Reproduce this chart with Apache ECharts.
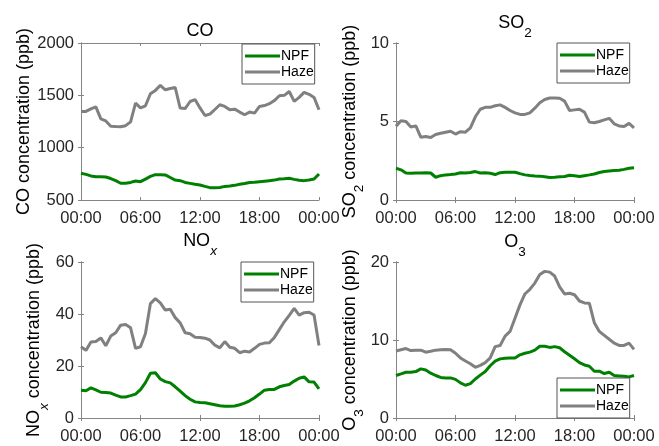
<!DOCTYPE html>
<html><head><meta charset="utf-8">
<script src="https://cdn.jsdelivr.net/npm/echarts@6/dist/echarts.min.js"></script>
<style>html,body{margin:0;padding:0;background:#fff}#c{width:659px;height:446px}</style>
</head><body><div id="c"></div>
<script>
const hours = [0,0.5,1,1.5,2,2.5,3,3.5,4,4.5,5,5.5,
  6,6.5,7,7.5,8,8.5,9,9.5,10,10.5,11,11.5,
  12,12.5,13,13.5,14,14.5,15,15.5,16,16.5,17,17.5,
  18,18.5,19,19.5,20,20.5,21,21.5,22,22.5,23,23.5,24];
const tickLabels = ['00:00','06:00','12:00','18:00','00:00'];
const seriesNames = ['NPF','Haze'];

const coNPF = [755,745,730,722,723,720,705,685,660,660,668,682,
  675,700,725,742,742,740,715,690,685,668,659,650,
  643,630,618,618,620,630,634,640,650,658,668,670,
  675,680,685,690,700,703,707,697,688,685,691,700,749];
const coHaze = [1346,1346,1370,1390,1275,1255,1205,1202,1200,1210,1247,1425,
  1380,1400,1515,1547,1595,1553,1565,1575,1378,1374,1441,1460,
  1380,1307,1320,1365,1410,1394,1362,1368,1340,1314,1340,1330,
  1394,1402,1420,1450,1496,1500,1537,1442,1480,1528,1510,1480,1362];
const so2NPF = [2.02,1.92,1.72,1.70,1.72,1.72,1.74,1.72,1.45,1.55,1.6,1.62,
  1.66,1.74,1.72,1.75,1.81,1.72,1.74,1.7,1.62,1.74,1.76,1.77,
  1.77,1.68,1.6,1.56,1.53,1.52,1.48,1.43,1.45,1.48,1.5,1.58,
  1.55,1.5,1.55,1.6,1.66,1.75,1.82,1.85,1.88,1.9,1.95,2.02,2.05];
const so2Haze = [4.7,5.05,5.0,4.65,4.72,4.0,4.04,3.98,4.17,4.25,4.32,4.38,
  4.2,4.35,4.32,4.6,5.3,5.78,5.9,5.9,6.0,6.06,5.9,5.7,
  5.55,5.45,5.45,5.55,5.85,6.2,6.4,6.5,6.5,6.48,6.3,5.7,
  5.74,5.78,5.6,4.96,4.92,5.0,5.1,5.2,4.85,4.72,4.68,4.88,4.6];
const noxNPF = [10.7,10.5,11.6,10.8,9.9,9.8,9.6,8.8,8.1,8.1,8.6,9.2,
  10.9,13.6,17.2,17.4,15.0,14.0,13.5,12.0,10.3,8.6,7.2,6.2,
  6.0,5.9,5.5,5.1,4.7,4.5,4.5,4.6,5.1,5.7,6.6,7.8,
  9.2,10.7,11.0,11.0,12.0,12.5,12.9,14.2,15.3,15.8,13.9,13.8,11.2];
const noxHaze = [27.4,26.0,29.2,29.4,30.8,27.8,31.5,32.8,35.7,36.0,34.7,26.8,
  27.4,32.5,44.0,45.9,44.3,41.5,41.8,38.6,36.6,32.8,32.4,31.1,
  31.0,30.7,30.0,28.0,27.0,29.4,27.2,26.8,25.1,25.7,25.4,26.8,
  28.3,28.8,28.9,31.0,34.0,37.0,39.5,42.2,39.6,40.5,40.7,39.6,27.9];
const o3NPF = [5.45,5.65,5.87,5.87,5.95,6.3,6.15,5.75,5.45,5.2,5.14,5.14,
  4.95,4.5,4.2,4.4,5.0,5.5,5.95,6.7,7.28,7.58,7.65,7.7,
  7.7,8.1,8.3,8.45,8.7,9.2,9.2,9.05,9.15,9.0,8.5,8.05,
  7.6,7.1,6.8,6.64,6.0,6.0,5.7,5.87,5.45,5.4,5.35,5.27,5.44];
const o3Haze = [8.6,8.75,8.9,8.65,8.68,8.7,8.44,8.55,8.7,8.75,8.78,8.75,
  8.3,7.7,7.3,6.95,6.5,6.75,7.1,7.7,9.15,9.3,10.5,11.1,
  12.8,14.5,15.9,16.5,17.3,18.4,18.8,18.7,18.2,16.8,15.9,16.0,
  15.8,15.0,14.75,14.7,12.2,11.1,10.6,10.1,9.6,9.3,9.3,9.6,8.8];

const FONT = '"Liberation Sans", Arial, Helvetica, sans-serif';
const AX = '#858585';
const TXT = '#262626';
const rich = {
  m: {fontSize: 18, fontFamily: FONT, color: '#000', lineHeight: 20, verticalAlign: 'top'},
  s: {fontSize: 13.5, fontFamily: FONT, color: '#000', verticalAlign: 'top', padding: [12, 0, 0, 0]},
  si: {fontSize: 13.5, fontFamily: FONT, fontStyle: 'italic', color: '#000', verticalAlign: 'top', padding: [12, 0, 0, 0]}
};

const panels = [
  {grid:{left:81, top:43, width:238, height:157}, y:[500,2000,500], npf:coNPF, haze:coHaze,
   title:'{m|CO}', titleY:22, yname:'{m|CO concentration (ppb)}', gap:46,
   legend:{left:242, top:44}},
  {grid:{left:396, top:43, width:238, height:157}, y:[0,10,5], npf:so2NPF, haze:so2Haze,
   title:'{m|SO}{s|2}', titleY:14, yname:'{m|SO}{s|2}{m| concentration (ppb)}', gap:25,
   legend:{left:557, top:43}},
  {grid:{left:81, top:262, width:238, height:156}, y:[0,60,20], npf:noxNPF, haze:noxHaze,
   title:'{m|NO}{si|x}', titleY:232, yname:'{m|NO}{si|x}{m| concentration (ppb)}', gap:30,
   legend:{left:241, top:262}},
  {grid:{left:396, top:262, width:238, height:156}, y:[0,20,10], npf:o3NPF, haze:o3Haze,
   title:'{m|O}{s|3}', titleY:233, yname:'{m|O}{s|3}{m| concentration (ppb)}', gap:23,
   legend:{left:557, top:378}}
];

const grid = [], xAxis = [], yAxis = [], series = [], legend = [], graphic = [];
panels.forEach((p, i) => {
  grid.push(Object.assign({containLabel:false}, p.grid));
  const xb = {
    type:'value', gridIndex:i, min:0, max:24, interval:6, position:'bottom',
    axisLine:{show:true, lineStyle:{color:AX, width:1}},
    axisTick:{show:true, inside:true, length:3, lineStyle:{color:AX}},
    splitLine:{show:false},
    axisLabel:{show:true, margin:10, fontSize:16.5, fontFamily:FONT, color:TXT,
      formatter: v => tickLabels[Math.round(v/6)]}
  };
  const xt = Object.assign({}, xb, {position:'top', axisLabel:{show:false}});
  xAxis.push(xb, xt);
  const yl = {
    type:'value', gridIndex:i, min:p.y[0], max:p.y[1], interval:p.y[2], position:'left',
    axisLine:{show:true, lineStyle:{color:AX, width:1}},
    axisTick:{show:true, inside:true, length:3, lineStyle:{color:AX}},
    splitLine:{show:false},
    axisLabel:{show:true, margin:7, fontSize:16.5, fontFamily:FONT, color:TXT,
      formatter: v => String(v)},
    name:p.yname, nameLocation:'middle', nameRotate:90, nameGap:p.gap,
    nameTextStyle:{rich:rich}
  };
  const yr = Object.assign({}, yl, {position:'right', axisLabel:{show:false}, name:''});
  yAxis.push(yl, yr);
  series.push({
    type:'line', name:seriesNames[0], xAxisIndex:2*i, yAxisIndex:2*i, symbol:'none',
    lineStyle:{color:'#008000', width:3}, itemStyle:{color:'#008000'},
    data: hours.map((h, k) => [h, p.npf[k]])
  });
  series.push({
    type:'line', name:seriesNames[1], xAxisIndex:2*i, yAxisIndex:2*i, symbol:'none',
    lineStyle:{color:'#808080', width:3}, itemStyle:{color:'#808080'},
    data: hours.map((h, k) => [h, p.haze[k]])
  });
  legend.push({
    data: seriesNames, left:p.legend.left, top:p.legend.top, orient:'vertical',
    icon:'rect', itemWidth:35, itemHeight:3, itemGap:2, padding:[5,1,5,3],
    backgroundColor:'#fff', borderColor:'#555', borderWidth:1, borderRadius:0,
    textStyle:{fontSize:14, fontFamily:FONT, color:'#000', padding:[0,0,0,-4]},
    selectedMode:false
  });
  graphic.push({
    type:'text', x: p.grid.left + p.grid.width/2, y: p.titleY,
    style:{text:p.title, rich:rich, align:'center', verticalAlign:'top'}
  });
});

const chart = echarts.init(document.getElementById('c'), null, {renderer:'canvas'});
chart.setOption({
  animation:false, backgroundColor:'#fff',
  grid, xAxis, yAxis, series, legend, graphic
});
</script></body></html>
